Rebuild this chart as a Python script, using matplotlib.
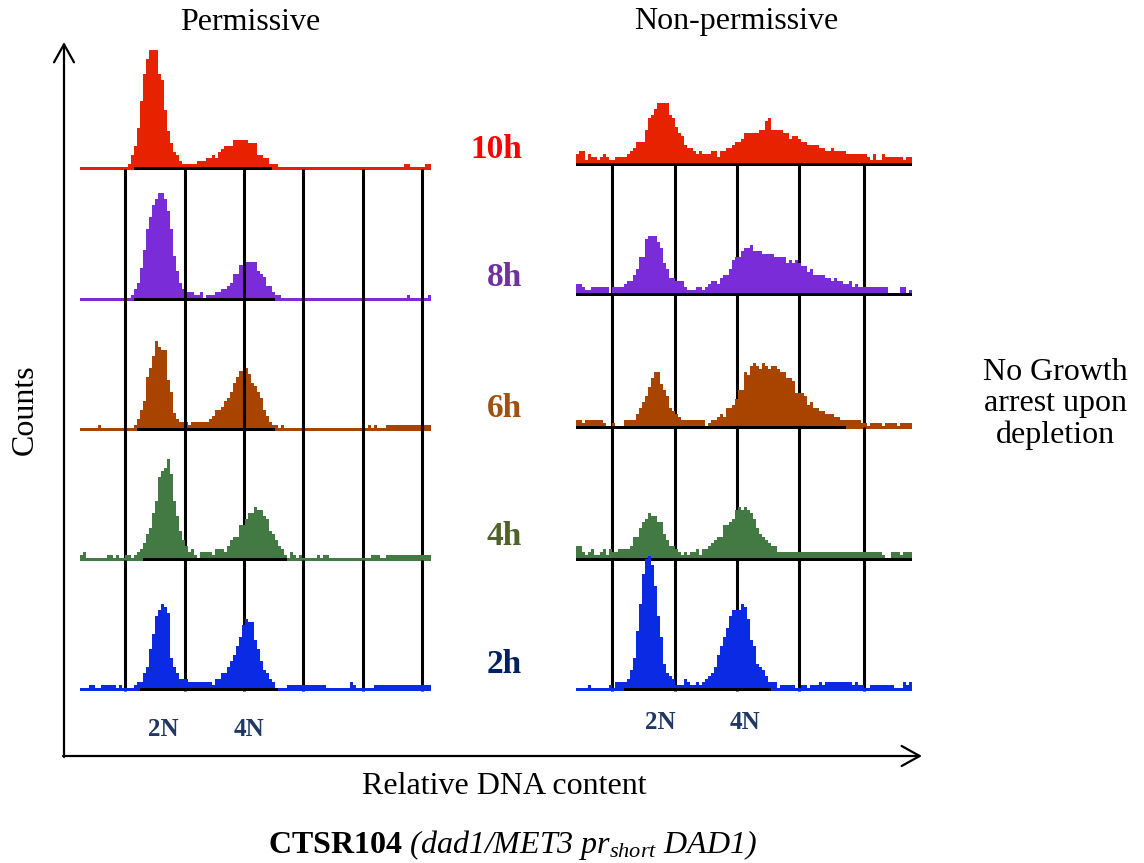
"""
Flow cytometry DNA-content histograms, permissive vs non-permissive
"""
import numpy as np
import matplotlib.pyplot as plt

plt.rcParams['font.family'] = 'Liberation Serif'
plt.rcParams['mathtext.fontset'] = 'custom'
# math text is only used for the italic caption, so rm is italic as well
plt.rcParams['mathtext.rm'] = 'Liberation Serif:italic'
plt.rcParams['mathtext.it'] = 'Liberation Serif:italic'
plt.rcParams['mathtext.bf'] = 'Liberation Serif:bold'

################################################################################
#
# histogram counts per channel (arbitrary units), rows 10h -> 2h
#
times = ['10h', '8h', '6h', '4h', '2h']

perm_10h = [1, 1, 1, 1, 1, 1, 1, 1, 1, 1, 1, 1, 1, 1, 1, 1, 2, 5, 8, 14,
            23, 32, 37, 40, 40, 40, 32, 30, 20, 13, 9, 6, 5, 3, 2, 2, 2, 2, 2, 3,
            3, 3, 4, 4, 5, 4, 6, 7, 8, 8, 8, 10, 10, 10, 10, 10, 9, 9, 9, 5,
            5, 4, 4, 2, 2, 2, 1, 1, 1, 1, 1, 1, 1, 1, 1, 1, 1, 1, 1, 1,
            1, 1, 1, 1, 1, 1, 1, 1, 1, 1, 1, 1, 1, 1, 1, 1, 1, 1, 1, 1,
            1, 1, 1, 1, 1, 1, 1, 1, 2, 2, 1, 1, 1, 1, 1, 2, 2]
perm_8h = [1, 1, 1, 1, 1, 1, 1, 1, 1, 1, 1, 1, 1, 1, 1, 1, 1, 2, 4, 6,
           11, 17, 24, 28, 32, 34, 36, 36, 34, 30, 24, 15, 10, 6, 4, 3, 3, 3, 2, 2,
           3, 1, 2, 2, 2, 3, 3, 4, 4, 5, 6, 9, 9, 12, 12, 13, 13, 13, 13, 10,
           9, 8, 5, 5, 3, 2, 2, 1, 1, 1, 1, 1, 1, 1, 1, 1, 1, 1, 1, 1,
           1, 1, 1, 1, 1, 1, 1, 1, 1, 1, 1, 1, 1, 1, 1, 1, 1, 1, 1, 1,
           1, 1, 1, 1, 1, 1, 1, 1, 1, 2, 1, 1, 1, 1, 1, 1, 2]
perm_6h = [1, 1, 1, 1, 1, 1, 2, 1, 1, 1, 1, 1, 1, 1, 1, 1, 1, 1, 2, 4,
           7, 10, 18, 21, 25, 30, 28, 27, 27, 17, 13, 6, 4, 3, 3, 3, 2, 3, 3, 3,
           3, 3, 3, 4, 5, 7, 7, 8, 10, 11, 13, 16, 18, 20, 20, 21, 19, 16, 15, 13,
           11, 7, 5, 3, 2, 2, 1, 2, 1, 1, 1, 1, 1, 1, 1, 1, 1, 1, 1, 1,
           1, 1, 1, 1, 1, 1, 1, 1, 1, 1, 1, 1, 1, 1, 1, 1, 2, 1, 2, 1,
           1, 1, 2, 2, 2, 2, 2, 2, 2, 2, 2, 2, 2, 2, 2, 2, 2]
perm_4h = [2, 3, 1, 1, 1, 1, 1, 1, 1, 2, 2, 1, 2, 1, 1, 2, 2, 1, 2, 3,
           4, 6, 9, 11, 16, 20, 28, 30, 31, 34, 29, 20, 15, 10, 7, 5, 3, 4, 2, 1,
           3, 3, 3, 3, 2, 4, 4, 4, 3, 5, 7, 8, 8, 12, 12, 14, 16, 16, 18, 17,
           17, 15, 14, 10, 9, 7, 5, 4, 2, 1, 3, 2, 1, 2, 1, 1, 1, 1, 1, 2,
           1, 2, 2, 1, 1, 1, 1, 1, 1, 1, 1, 1, 1, 1, 1, 1, 1, 2, 2, 2,
           1, 1, 2, 2, 2, 2, 2, 2, 2, 2, 2, 2, 2, 2, 2, 2, 2]
perm_2h = [1, 1, 1, 2, 2, 1, 1, 2, 2, 2, 2, 2, 1, 2, 1, 1, 1, 1, 2, 3,
           3, 6, 8, 14, 19, 25, 27, 29, 28, 26, 11, 8, 6, 4, 4, 4, 3, 3, 3, 3,
           3, 3, 3, 3, 2, 4, 4, 6, 6, 8, 10, 12, 15, 18, 22, 24, 23, 23, 17, 14,
           10, 7, 6, 4, 3, 1, 1, 1, 1, 2, 2, 2, 2, 2, 2, 2, 2, 2, 2, 2,
           2, 2, 1, 1, 1, 1, 1, 1, 1, 1, 3, 2, 1, 1, 1, 1, 1, 1, 2, 2,
           2, 2, 2, 2, 2, 2, 2, 2, 2, 2, 2, 2, 2, 2, 2, 2, 2]

nonperm_10h = [4, 5, 5, 2, 4, 3, 3, 2, 3, 4, 3, 2, 2, 3, 3, 3, 3, 4, 5, 6,
               8, 8, 8, 12, 16, 17, 19, 21, 21, 21, 21, 17, 16, 13, 11, 10, 7, 6, 6, 5,
               4, 5, 4, 4, 4, 5, 5, 3, 5, 5, 6, 6, 7, 8, 8, 9, 11, 11, 11, 11,
               11, 12, 12, 15, 16, 12, 12, 12, 12, 11, 11, 9, 10, 10, 9, 8, 8, 7, 7, 7,
               7, 6, 6, 5, 5, 6, 5, 5, 5, 5, 4, 4, 4, 4, 4, 4, 4, 3, 2, 4,
               2, 2, 4, 3, 3, 3, 3, 3, 3, 2, 3, 3]
nonperm_8h = [4, 4, 3, 2, 2, 3, 3, 3, 3, 3, 3, 1, 3, 3, 3, 3, 4, 5, 5, 7,
              9, 13, 13, 19, 20, 20, 20, 18, 16, 11, 9, 6, 6, 5, 5, 5, 3, 2, 2, 2,
              3, 3, 2, 3, 4, 5, 5, 4, 6, 7, 7, 9, 12, 13, 13, 15, 16, 16, 17, 15,
              15, 15, 14, 14, 14, 14, 13, 13, 13, 13, 11, 12, 11, 12, 11, 10, 10, 8, 9, 7,
              7, 7, 7, 6, 6, 5, 6, 5, 5, 4, 4, 5, 3, 4, 3, 3, 3, 3, 3, 3,
              3, 3, 3, 3, 1, 1, 1, 1, 3, 3, 1, 2]
nonperm_6h = [3, 3, 2, 3, 3, 3, 3, 3, 3, 2, 1, 1, 2, 1, 1, 1, 3, 3, 3, 3,
              5, 7, 9, 11, 14, 17, 19, 19, 15, 13, 11, 7, 6, 5, 4, 3, 3, 3, 3, 3,
              3, 3, 3, 1, 2, 3, 3, 4, 5, 4, 7, 7, 8, 10, 13, 13, 19, 18, 21, 22,
              21, 20, 22, 21, 20, 21, 21, 20, 19, 19, 17, 17, 16, 12, 12, 12, 11, 8, 9, 7,
              7, 6, 6, 5, 5, 5, 4, 4, 3, 3, 3, 3, 3, 3, 3, 2, 2, 1, 2, 2,
              2, 2, 1, 2, 2, 2, 2, 1, 2, 2, 2, 2]
nonperm_4h = [5, 5, 3, 2, 3, 4, 2, 2, 3, 4, 2, 4, 3, 3, 4, 4, 4, 4, 5, 8,
              8, 11, 13, 14, 16, 15, 15, 13, 13, 9, 7, 5, 5, 4, 3, 2, 3, 2, 3, 3,
              4, 2, 4, 4, 5, 6, 7, 8, 8, 12, 12, 13, 14, 17, 18, 17, 18, 17, 16, 14,
              11, 9, 8, 7, 6, 5, 5, 3, 3, 3, 3, 3, 3, 3, 3, 3, 3, 3, 3, 3,
              3, 3, 3, 3, 3, 3, 3, 3, 3, 3, 3, 3, 3, 3, 3, 3, 3, 3, 3, 3,
              3, 3, 2, 1, 1, 3, 3, 3, 2, 3, 3, 3]
nonperm_2h = [1, 1, 1, 1, 2, 1, 1, 1, 1, 1, 1, 2, 1, 3, 3, 3, 3, 4, 7, 11,
              20, 29, 39, 44, 45, 42, 35, 25, 18, 9, 6, 5, 4, 2, 2, 2, 4, 3, 2, 2,
              3, 2, 3, 4, 5, 6, 8, 12, 15, 18, 21, 25, 27, 27, 27, 29, 28, 24, 17, 15,
              9, 8, 7, 5, 3, 3, 3, 1, 2, 2, 2, 2, 2, 1, 1, 2, 2, 1, 2, 2,
              2, 3, 2, 3, 3, 3, 3, 3, 3, 3, 3, 3, 2, 3, 2, 2, 1, 1, 2, 2,
              2, 2, 2, 2, 2, 2, 1, 1, 1, 3, 2, 3]

perm = [perm_10h, perm_8h, perm_6h, perm_4h, perm_2h]
nonperm = [nonperm_10h, nonperm_8h, nonperm_6h, nonperm_4h, nonperm_2h]

# gate markers (channel) and the black baseline stretch under each trace
perm_gates = [15, 35.1, 54.8, 74.4, 94.4, 114.1]
nonperm_gates = [12.1, 33.1, 53.8, 74.4, 96.1]
perm_black = [(18, 64), (18, 65), (19, 65), (21, 69), (20, 66)]
nonperm_black = [(0, 112), (0, 112), (0, 90), (0, 112), (16, 65)]

ploidy = ['2N', '4N']

################################################################################
#
# styles / layout (pixels of a 1144x863 canvas)
#
W, H = 1144, 863
hist_colors = ['#e62200', '#7a2cd8', '#a84400', '#437a43', '#0a2be3']
label_colors = ['#ff0000', '#7030a0', '#a0500f', '#4f6228', '#002060']
perm_x0, nonperm_x0 = 80, 576
perm_base = [170.3, 300.7, 431, 561, 690.7]
nonperm_base = [166, 296, 428.7, 561, 691]
perm_lines_on_top = [False, True, True, False, False]
PX = 3.0          # pixels per channel and per count
AX_H = 150        # axes height in pixels

fig = plt.figure(figsize=(W / 100, H / 100), dpi=100)

# overlay in pixel coordinates for axes arrows and labels
ax0 = fig.add_axes([0, 0, 1, 1])
ax0.set_xlim(0, W)
ax0.set_ylim(H, 0)
ax0.axis('off')
ax0.set_zorder(0)


def add_hist(x0, bases, k, values, color, gates, black, on_top):
    n = len(values)
    base = bases[k]
    ax = fig.add_axes([x0 / W, 1 - base / H, n * PX / W, AX_H / H])
    ax.set_xlim(0, n)
    ax.set_ylim(0, AX_H / PX)
    ax.axis('off')
    ax.set_zorder(1 + k)
    ax.stairs(values, np.arange(n + 1), fill=True, color=color, lw=0, zorder=2)
    ax.fill_between(list(black), 0, 1, color='k', lw=0, zorder=2.5)
    if k > 0:
        gap = (base - bases[k - 1]) / PX + 0.5
        ax.vlines(gates, 0, gap, colors='k', lw=2.2,
                  zorder=3 if on_top else 1, clip_on=False)
    return ax


for k in range(5):
    add_hist(perm_x0, perm_base, k, perm[k], hist_colors[k],
             perm_gates, perm_black[k], perm_lines_on_top[k])
    add_hist(nonperm_x0, nonperm_base, k, nonperm[k], hist_colors[k],
             nonperm_gates, nonperm_black[k], False)

# axes arrows
arrow = dict(arrowstyle='->,head_length=0.65,head_width=0.36', lw=1.6,
             color='k', mutation_scale=20, shrinkA=0, shrinkB=0)
ax0.annotate('', xy=(64, 42), xytext=(64, 757), arrowprops=arrow)
ax0.annotate('', xy=(922, 756), xytext=(63, 756), arrowprops=arrow)

# texts
fs = 23
ax0.text(250, 22, 'Permissive', fontsize=fs, ha='center', va='center')
ax0.text(736, 22, 'Non-permissive', fontsize=fs, ha='center', va='center')
ax0.text(25, 410, 'Counts', fontsize=fs, ha='center', va='center', rotation=90)
ax0.text(504, 786, 'Relative DNA content', fontsize=fs, ha='center', va='center')
ax0.text(1055, 404, 'No Growth\narrest upon\ndepletion', fontsize=fs,
         ha='center', va='center', linespacing=1.1)
ax0.text(513, 845, r'$\mathbf{CTSR104}$ $(dad1/MET3\ pr_{short}\ DAD1)$',
         fontsize=fs, ha='center', va='center')

label_y = [150, 277, 408, 536, 664]
for k in range(5):
    ax0.text(522, label_y[k], times[k], fontsize=24, fontweight='bold',
             color=label_colors[k], ha='right', va='center')

for x, lab in zip([163, 249], ploidy):
    ax0.text(x, 729, lab, fontsize=18, fontweight='bold', color='#1f3864',
             ha='center', va='center')
for x, lab in zip([660, 745], ploidy):
    ax0.text(x, 722, lab, fontsize=18, fontweight='bold', color='#1f3864',
             ha='center', va='center')

fig.savefig('out.png', dpi=100)
